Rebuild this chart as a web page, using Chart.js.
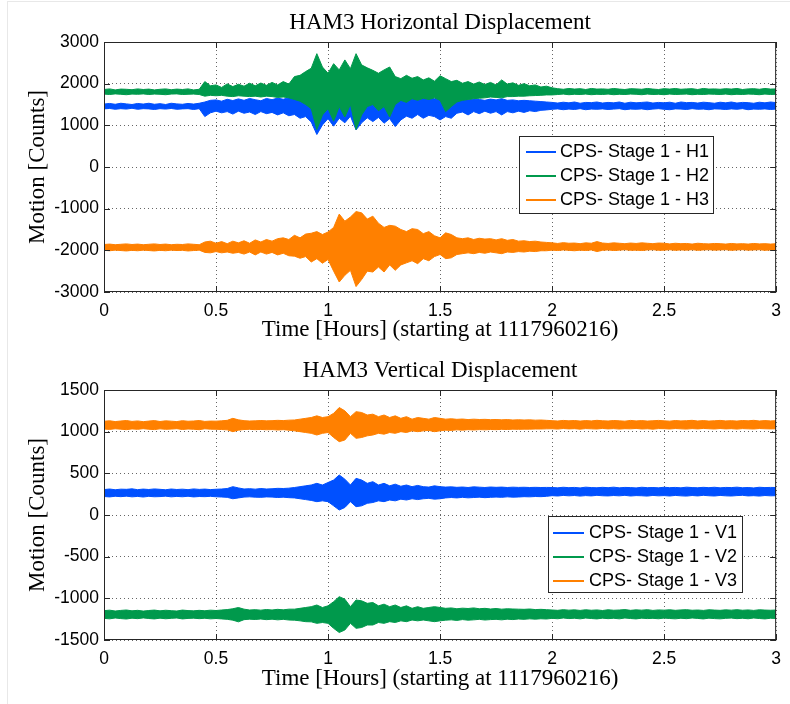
<!DOCTYPE html>
<html>
<head>
<meta charset="utf-8">
<title>HAM3 Displacement</title>
<script src="https://cdn.jsdelivr.net/npm/chart.js@4.4.0/dist/chart.umd.min.js"></script>
<style>
  html, body { margin: 0; padding: 0; background: #fff; }
  #fig { position: relative; width: 790px; height: 704px; overflow: hidden; }
  #fig canvas { position: absolute; left: 0; }
  #frame { position: absolute; left: 7px; top: 1px; right: 0; bottom: -2px; border-left: 1px solid #e8e8e8; border-top: 1px solid #e8e8e8; }
</style>
</head>
<body>
<div id="fig">
  <div id="frame"></div>
  <canvas id="horiz" width="790" height="352" style="top:0"></canvas>
  <canvas id="vert" width="790" height="352" style="top:352px"></canvas>
</div>
<script>
// one envelope sample every 0.025 h across the 3 hour window
const hours = Array.from({ length: 121 }, (_, i) => +(i * 0.025).toFixed(3));
const xTicks = [0, 0.5, 1, 1.5, 2, 2.5, 3];
const hTicks = [-3000, -2000, -1000, 0, 1000, 2000, 3000];
const vTicks = [-1500, -1000, -500, 0, 500, 1000, 1500];
const hLabels = ['CPS- Stage 1 - H1', 'CPS- Stage 1 - H2', 'CPS- Stage 1 - H3'];
const vLabels = ['CPS- Stage 1 - V1', 'CPS- Stage 1 - V2', 'CPS- Stage 1 - V3'];
const colors = ['#0050ff', '#00994c', '#ff8000'];

// upper / lower envelope of each CPS channel [counts]
const h1Hi = [1510,1525,1505,1530,1515,1500,1525,1510,1530,1505,
  1520,1500,1530,1515,1505,1525,1510,1530,1560,1600,
  1610,1580,1625,1595,1635,1600,1645,1615,1590,1645,
  1615,1655,1625,1665,1680,1700,1720,1700,1740,1720,
  1700,1740,1720,1700,1740,1720,1700,1730,1720,1700,
  1730,1710,1690,1680,1650,1670,1640,1660,1650,1640,
  1660,1670,1650,1620,1640,1610,1630,1620,1600,1630,
  1610,1640,1600,1610,1590,1600,1590,1580,1570,1560,
  1550,1535,1555,1540,1560,1530,1550,1545,1560,1535,
  1550,1540,1560,1530,1555,1540,1550,1560,1535,1550,
  1540,1555,1530,1560,1545,1550,1535,1555,1545,1530,
  1555,1540,1560,1535,1550,1545,1530,1555,1540,1560,
  1545];
const h1Lo = [1395,1405,1385,1400,1390,1410,1385,1400,1395,1380,
  1400,1390,1405,1385,1395,1400,1380,1400,1210,1300,
  1340,1300,1330,1270,1340,1290,1320,1260,1330,1280,
  1310,1250,1300,1230,1260,1170,1210,1080,780,1010,
  1160,980,1170,1060,1220,890,1060,1180,1090,1190,
  1050,1160,970,1130,1220,1170,1260,1170,1240,1210,
  1130,1210,1170,1290,1320,1250,1330,1280,1340,1290,
  1330,1250,1330,1300,1340,1310,1350,1330,1360,1370,
  1385,1395,1375,1390,1380,1400,1375,1390,1385,1395,
  1380,1390,1400,1375,1390,1385,1395,1375,1390,1400,
  1385,1375,1395,1390,1380,1400,1385,1390,1375,1395,
  1390,1380,1395,1385,1400,1375,1390,1385,1395,1380,
  1390];
const h2Hi = [1860,1875,1850,1870,1865,1855,1875,1860,1870,1850,
  1865,1875,1855,1870,1860,1875,1850,1865,2050,1950,
  1970,1910,1995,1930,1985,1940,2010,1950,2015,1960,
  2030,1970,2050,1990,2170,2200,2290,2370,2720,2400,
  2250,2480,2330,2570,2360,2720,2450,2380,2320,2250,
  2330,2400,2170,2120,2200,2130,2170,2090,2140,2060,
  2190,2120,2050,2080,2010,2050,1990,2040,1980,2030,
  1970,2090,1990,2020,1960,2000,1950,1970,1920,1940,
  1900,1880,1865,1885,1870,1880,1860,1885,1870,1875,
  1865,1885,1870,1860,1880,1875,1865,1885,1870,1860,
  1880,1870,1885,1865,1875,1880,1860,1885,1870,1875,
  1865,1880,1870,1885,1860,1875,1880,1865,1885,1870,
  1875];
const h2Lo = [1750,1740,1755,1745,1735,1750,1745,1755,1740,1750,
  1745,1735,1750,1755,1740,1745,1750,1740,1700,1720,
  1710,1720,1700,1690,1710,1700,1690,1700,1680,1700,
  1690,1670,1680,1660,1620,1580,1500,1400,900,1250,
  1400,1100,1450,1200,1500,900,1250,1450,1500,1350,
  1450,1200,1500,1600,1550,1640,1600,1650,1620,1660,
  1600,1330,1450,1560,1600,1620,1640,1650,1660,1680,
  1670,1660,1690,1690,1700,1700,1710,1715,1720,1730,
  1730,1740,1750,1735,1745,1740,1750,1735,1745,1740,
  1750,1735,1745,1740,1750,1745,1735,1750,1740,1745,
  1735,1750,1740,1745,1750,1735,1745,1740,1750,1745,
  1740,1750,1735,1745,1740,1750,1745,1735,1750,1740,
  1745];
const h3Hi = [-1860,-1850,-1865,-1855,-1845,-1860,-1850,-1865,-1855,-1845,
  -1860,-1850,-1865,-1855,-1860,-1845,-1855,-1865,-1800,-1780,
  -1830,-1790,-1840,-1780,-1820,-1770,-1830,-1750,-1800,-1740,
  -1780,-1720,-1700,-1740,-1640,-1700,-1610,-1590,-1550,-1620,
  -1560,-1450,-1130,-1300,-1200,-1070,-1100,-1250,-1180,-1350,
  -1450,-1400,-1420,-1500,-1550,-1480,-1500,-1600,-1550,-1650,
  -1700,-1580,-1620,-1700,-1720,-1700,-1740,-1710,-1730,-1720,
  -1750,-1720,-1760,-1740,-1780,-1770,-1790,-1780,-1800,-1810,
  -1820,-1835,-1815,-1830,-1825,-1840,-1820,-1830,-1790,-1825,
  -1835,-1820,-1830,-1840,-1825,-1835,-1820,-1830,-1840,-1825,
  -1830,-1845,-1830,-1840,-1835,-1850,-1830,-1840,-1845,-1835,
  -1840,-1850,-1835,-1845,-1840,-1850,-1835,-1845,-1840,-1850,
  -1840];
const h3Lo = [-2000,-2010,-1995,-2005,-2015,-2000,-2010,-1995,-2005,-2015,
  -2000,-2010,-1995,-2005,-2000,-2015,-2005,-1995,-2050,-2060,
  -2030,-2060,-2040,-2070,-2050,-2090,-2040,-2110,-2040,-2090,
  -2050,-2110,-2070,-2130,-2140,-2190,-2150,-2280,-2200,-2310,
  -2220,-2500,-2760,-2600,-2480,-2870,-2700,-2500,-2520,-2400,
  -2520,-2350,-2480,-2350,-2300,-2250,-2320,-2200,-2250,-2150,
  -2100,-2200,-2180,-2100,-2080,-2060,-2080,-2050,-2070,-2040,
  -2060,-2080,-2040,-2050,-2030,-2040,-2020,-2030,-2010,-2010,
  -1995,-2005,-1990,-2000,-2010,-1995,-2005,-1990,-2030,-2000,
  -1990,-2005,-1995,-1985,-2000,-1995,-2005,-1990,-1985,-2000,
  -1995,-1985,-2000,-1990,-1995,-1985,-2000,-1990,-1985,-1995,
  -1990,-1985,-2000,-1990,-1985,-1995,-1990,-1985,-2000,-1990,
  -1990];

const v1Hi = [305,312,303,310,308,314,304,311,306,313,
  308,303,312,306,310,304,313,307,311,305,
  309,312,318,340,325,312,316,310,318,312,
  315,320,318,322,330,340,350,360,380,360,
  390,420,480,430,360,440,420,380,400,360,
  380,350,370,345,360,340,355,340,335,350,
  340,335,338,332,336,330,338,334,330,336,
  332,335,330,334,331,333,330,332,330,331,
  330,326,333,328,331,325,334,329,327,332,
  328,334,326,331,329,325,333,328,330,326,
  333,328,331,326,334,329,327,332,328,333,
  326,331,329,334,327,330,325,333,329,331,
  330];
const v1Lo = [222,217,225,220,226,218,223,216,224,219,
  221,226,218,223,219,225,217,222,220,224,
  219,216,212,195,205,215,218,214,212,217,
  215,210,214,208,205,195,185,175,160,170,
  160,110,60,90,160,100,110,140,150,170,
  160,180,170,190,180,195,185,195,200,190,
  195,205,210,205,212,206,210,214,208,212,
  215,212,218,214,216,220,218,222,220,224,
  232,228,235,230,234,227,233,229,236,231,
  229,234,230,236,228,233,231,227,235,230,
  233,228,235,230,227,234,229,236,231,228,
  235,230,228,233,236,229,232,227,234,230,
  232];
const v2Hi = [-1148,-1142,-1152,-1145,-1140,-1150,-1144,-1153,-1146,-1141,
  -1150,-1143,-1148,-1152,-1141,-1147,-1150,-1144,-1149,-1142,
  -1146,-1140,-1135,-1125,-1110,-1130,-1140,-1136,-1142,-1134,
  -1140,-1132,-1138,-1130,-1130,-1120,-1110,-1100,-1080,-1110,
  -1090,-1040,-980,-1010,-1100,-1020,-1030,-1060,-1050,-1090,
  -1070,-1100,-1080,-1110,-1090,-1120,-1100,-1120,-1110,-1100,
  -1110,-1120,-1115,-1125,-1118,-1122,-1115,-1125,-1120,-1128,
  -1122,-1130,-1125,-1128,-1130,-1132,-1128,-1135,-1132,-1136,
  -1140,-1144,-1136,-1142,-1138,-1145,-1137,-1143,-1139,-1146,
  -1137,-1143,-1140,-1135,-1144,-1138,-1142,-1136,-1145,-1139,
  -1142,-1137,-1144,-1139,-1136,-1143,-1140,-1145,-1137,-1141,
  -1144,-1138,-1142,-1136,-1143,-1139,-1145,-1137,-1141,-1143,
  -1140];
const v2Lo = [-1240,-1246,-1236,-1243,-1248,-1238,-1244,-1235,-1242,-1247,
  -1238,-1245,-1240,-1236,-1247,-1241,-1238,-1244,-1239,-1246,
  -1242,-1247,-1252,-1262,-1282,-1256,-1250,-1254,-1248,-1256,
  -1250,-1258,-1252,-1260,-1262,-1270,-1280,-1282,-1300,-1290,
  -1300,-1360,-1410,-1380,-1300,-1360,-1350,-1320,-1320,-1290,
  -1300,-1280,-1290,-1270,-1280,-1260,-1270,-1260,-1270,-1280,
  -1270,-1262,-1258,-1265,-1255,-1262,-1258,-1252,-1260,-1255,
  -1252,-1258,-1250,-1255,-1248,-1252,-1246,-1250,-1245,-1248,
  -1240,-1245,-1236,-1243,-1239,-1246,-1237,-1242,-1247,-1238,
  -1244,-1239,-1246,-1236,-1242,-1247,-1238,-1243,-1240,-1245,
  -1237,-1242,-1246,-1239,-1244,-1236,-1241,-1247,-1238,-1243,
  -1246,-1240,-1237,-1244,-1239,-1245,-1236,-1242,-1247,-1239,
  -1242];
const v3Hi = [1125,1131,1121,1128,1134,1123,1129,1120,1127,1133,
  1122,1130,1126,1121,1132,1125,1128,1134,1123,1127,
  1126,1130,1136,1160,1142,1132,1128,1130,1134,1130,
  1132,1136,1133,1138,1140,1150,1160,1170,1190,1170,
  1180,1220,1290,1250,1180,1240,1230,1200,1210,1180,
  1200,1170,1190,1160,1180,1150,1170,1160,1150,1170,
  1160,1150,1155,1148,1152,1145,1150,1146,1148,1144,
  1146,1142,1145,1140,1143,1140,1142,1138,1140,1136,
  1132,1128,1135,1130,1134,1127,1133,1129,1136,1131,
  1128,1134,1130,1126,1135,1129,1133,1127,1131,1135,
  1130,1126,1134,1129,1132,1136,1128,1133,1127,1131,
  1135,1129,1132,1127,1134,1130,1136,1128,1133,1129,
  1132];
const v3Lo = [1032,1027,1035,1030,1024,1033,1028,1036,1029,1025,
  1034,1028,1031,1036,1026,1032,1029,1024,1035,1030,
  1029,1026,1022,1000,1018,1026,1028,1024,1027,1023,
  1025,1020,1024,1018,1010,1000,990,980,960,980,
  990,930,880,900,980,920,930,950,960,980,
  970,990,980,1000,990,1010,1000,1010,1015,1000,
  1010,1018,1015,1022,1018,1024,1020,1025,1022,1026,
  1024,1028,1026,1030,1028,1030,1030,1032,1032,1034,
  1035,1031,1038,1033,1036,1030,1037,1034,1032,1039,
  1033,1037,1031,1036,1034,1039,1032,1035,1030,1037,
  1036,1032,1038,1034,1031,1037,1033,1039,1035,1032,
  1038,1033,1036,1031,1037,1034,1032,1038,1035,1033,
  1035];

const serif = '"Liberation Serif", "Times New Roman", serif';
const sans = '"Liberation Sans", Arial, sans-serif';

// each channel is a filled band between its upper and lower envelope;
// later channels sit on top, as in the original plot order
function bandDatasets(pairs, labels) {
  const sets = [];
  pairs.forEach(([hi, lo], k) => {
    const order = pairs.length - k;
    const pts = arr => arr.map((v, i) => ({ x: hours[i], y: v }));
    sets.push({
      label: labels[k], data: pts(hi), order,
      borderColor: colors[k], backgroundColor: colors[k],
      borderWidth: 1, pointRadius: 0, fill: '+1'
    });
    sets.push({
      label: labels[k] + ' (min)', data: pts(lo), order,
      borderColor: colors[k], borderWidth: 1, pointRadius: 0, fill: false
    });
  });
  return sets;
}

// closed axes box with inward tick marks on all four sides
const axesBox = {
  id: 'axesBox',
  afterDraw(chart) {
    const { ctx, chartArea: a, scales } = chart;
    const len = 6;
    ctx.save();
    ctx.strokeStyle = '#262626';
    ctx.lineWidth = 1;
    ctx.strokeRect(a.left + 0.5, a.top + 0.5, a.width - 1, a.height - 1);
    ctx.beginPath();
    scales.x.ticks.forEach(t => {
      const px = Math.round(scales.x.getPixelForValue(t.value)) + 0.5;
      ctx.moveTo(px, a.bottom); ctx.lineTo(px, a.bottom - len);
      ctx.moveTo(px, a.top); ctx.lineTo(px, a.top + len);
    });
    scales.y.ticks.forEach(t => {
      const py = Math.round(scales.y.getPixelForValue(t.value)) + 0.5;
      ctx.moveTo(a.left, py); ctx.lineTo(a.left + len, py);
      ctx.moveTo(a.right, py); ctx.lineTo(a.right - len, py);
    });
    ctx.stroke();
    ctx.restore();
  }
};

// boxed legend placed inside the axes
const boxLegend = {
  id: 'boxLegend',
  afterDraw(chart, args, opts) {
    const { ctx, chartArea } = chart;
    const x0 = chartArea.left + opts.left;
    const y0 = chartArea.top + opts.top;
    ctx.save();
    ctx.fillStyle = '#fff';
    ctx.fillRect(x0, y0, opts.width, opts.height);
    ctx.strokeStyle = '#262626';
    ctx.lineWidth = 1;
    ctx.strokeRect(x0 + 0.5, y0 + 0.5, opts.width, opts.height);
    ctx.font = '18px ' + sans;
    ctx.textBaseline = 'middle';
    opts.labels.forEach((text, k) => {
      const y = y0 + opts.firstRow + k * opts.rowStep;
      ctx.strokeStyle = colors[k];
      ctx.lineWidth = 2;
      ctx.beginPath();
      ctx.moveTo(x0 + opts.lineFrom, y);
      ctx.lineTo(x0 + opts.lineTo, y);
      ctx.stroke();
      ctx.fillStyle = '#000';
      ctx.fillText(text, x0 + opts.textX, y);
    });
    ctx.restore();
  }
};

function makeChart(id, cfg) {
  const gridStyle = { color: 'rgba(0,0,0,0.6)', lineWidth: 1, drawTicks: false, borderDash: [1, 3] };
  return new Chart(document.getElementById(id), {
    type: 'line',
    data: { datasets: cfg.datasets },
    plugins: [axesBox, boxLegend],
    options: {
      responsive: false,
      animation: false,
      events: [],
      layout: { padding: { left: 0, right: 13, top: 0, bottom: 0 } },
      elements: { line: { tension: 0 } },
      plugins: {
        legend: { display: false },
        tooltip: { enabled: false },
        title: {
          display: true, text: cfg.title, color: '#000', fullSize: false,
          font: { family: serif, size: 23, weight: 'normal', lineHeight: 1.2 },
          padding: cfg.titlePad
        },
        boxLegend: cfg.legend
      },
      scales: {
        x: {
          type: 'linear', min: 0, max: 3,
          afterBuildTicks: s => { s.ticks = xTicks.map(v => ({ value: v })); },
          afterFit: s => { s.height = cfg.xHeight; },
          grid: gridStyle,
          border: { display: false, dash: [1, 3] },
          ticks: { color: '#000', padding: 9, maxRotation: 0, font: { family: sans, size: 17.5 }, callback: v => String(v) },
          title: {
            display: true, text: 'Time [Hours] (starting at 1117960216)', color: '#000',
            font: { family: serif, size: 23, lineHeight: 1.2 },
            padding: { top: 0, bottom: cfg.xTitlePad }
          }
        },
        y: {
          type: 'linear', min: cfg.yTicks[0], max: cfg.yTicks[cfg.yTicks.length - 1],
          afterBuildTicks: s => { s.ticks = cfg.yTicks.map(v => ({ value: v })); },
          afterFit: s => { s.width = 104; },
          grid: gridStyle,
          border: { display: false, dash: [1, 3] },
          ticks: { color: '#000', padding: 5, font: { family: sans, size: 17.5 }, callback: v => String(v) },
          title: {
            display: true, text: 'Motion [Counts]', color: '#000',
            font: { family: serif, size: 23, lineHeight: 1.2 },
            padding: { top: 24, bottom: 0 }
          }
        }
      }
    }
  });
}

makeChart('horiz', {
  title: 'HAM3 Horizontal Displacement',
  titlePad: { top: 9.2, bottom: 5.2 },
  datasets: bandDatasets([[h1Hi, h1Lo], [h2Hi, h2Lo], [h3Hi, h3Lo]], hLabels),
  yTicks: hTicks,
  xHeight: 60,
  xTitlePad: 8.2,
  legend: { labels: hLabels, left: 415, top: 94, width: 194, height: 77, firstRow: 16, rowStep: 24, lineFrom: 7, lineTo: 37, textX: 41 }
});

makeChart('vert', {
  title: 'HAM3 Vertical Displacement',
  titlePad: { top: 5.5, bottom: 4.9 },
  datasets: bandDatasets([[v1Hi, v1Lo], [v2Hi, v2Lo], [v3Hi, v3Lo]], vLabels),
  yTicks: vTicks,
  xHeight: 64,
  xTitlePad: 11.7,
  legend: { labels: vLabels, left: 444, top: 126, width: 194, height: 76, firstRow: 17, rowStep: 24, lineFrom: 5, lineTo: 36, textX: 41 }
});
</script>
</body>
</html>
